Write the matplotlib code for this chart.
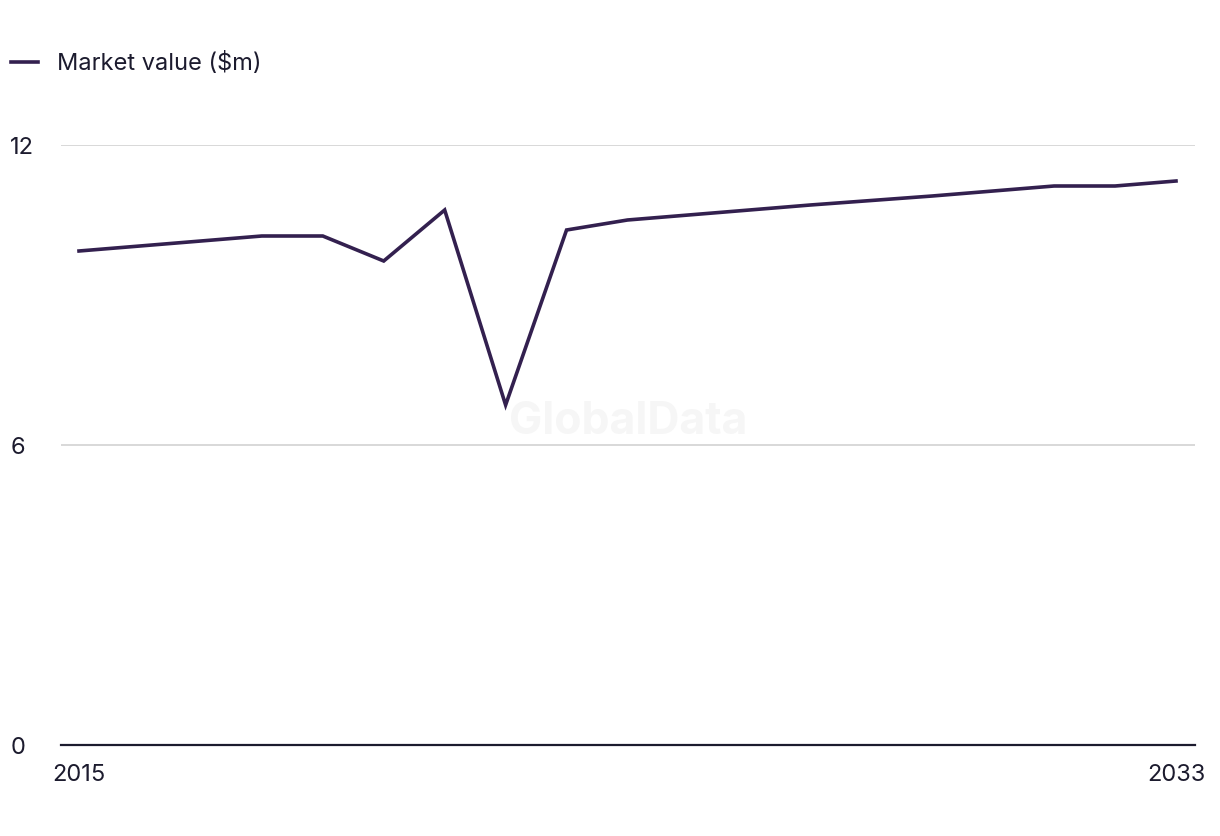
import matplotlib
matplotlib.use("Agg")
import matplotlib.pyplot as plt

years = list(range(2015, 2034))
market_value = [9.88, 9.98, 10.08, 10.18, 10.18, 9.68, 10.7, 6.8, 10.3, 10.5,
                10.6, 10.7, 10.8, 10.89, 10.98, 11.08, 11.18, 11.18, 11.28]
yticks = [0, 6, 12]
xtick_labels = ["2015", "2033"]
series_name = "Market value ($m)"

plt.rcParams['font.family'] = ['Inter', 'DejaVu Sans']

fig = plt.figure(figsize=(12.2, 8.36), dpi=100)
ax = fig.add_axes([61/1220, 1-745/836, (1195-61)/1220, (745-145)/836])

line_color = "#33204f"
ax.plot(years, market_value, color=line_color, lw=2.6, label=series_name, zorder=3,
        solid_joinstyle='miter')

ax.set_ylim(0, 12)
ax.set_xlim(2015 - 18/60.94, 2033 + 19/60.94)

ax.set_yticks(yticks)
ax.set_yticklabels([str(t) for t in yticks])
ax.set_xticks([years[0], years[-1]])
ax.set_xticklabels(xtick_labels)

for t in yticks[1:]:
    ax.axhline(t, color="#d6d6d6", lw=1.3, zorder=1)

for s in ["top", "right", "left"]:
    ax.spines[s].set_visible(False)
ax.spines["bottom"].set_color("#1c1b2e")
ax.spines["bottom"].set_linewidth(1.6)

ax.tick_params(axis='y', length=0, pad=36.5, labelsize=17, labelcolor="#1c1b2e")
for lbl in ax.get_yticklabels():
    lbl.set_horizontalalignment('left')
ax.tick_params(axis='x', length=0, pad=14, labelsize=17, labelcolor="#1c1b2e")

ax.text(0.5, 0.538, "GlobalData", transform=ax.transAxes, ha='center', va='center',
        fontsize=32, fontweight='bold', color="#f6f6f6", zorder=0)

fig.legend(loc='upper left', bbox_to_anchor=(-10/1220, 1-31/836), frameon=False,
           handlelength=1.15, handletextpad=0.8, fontsize=17, labelcolor="#1c1b2e")

fig.savefig("out.png", dpi=100)
